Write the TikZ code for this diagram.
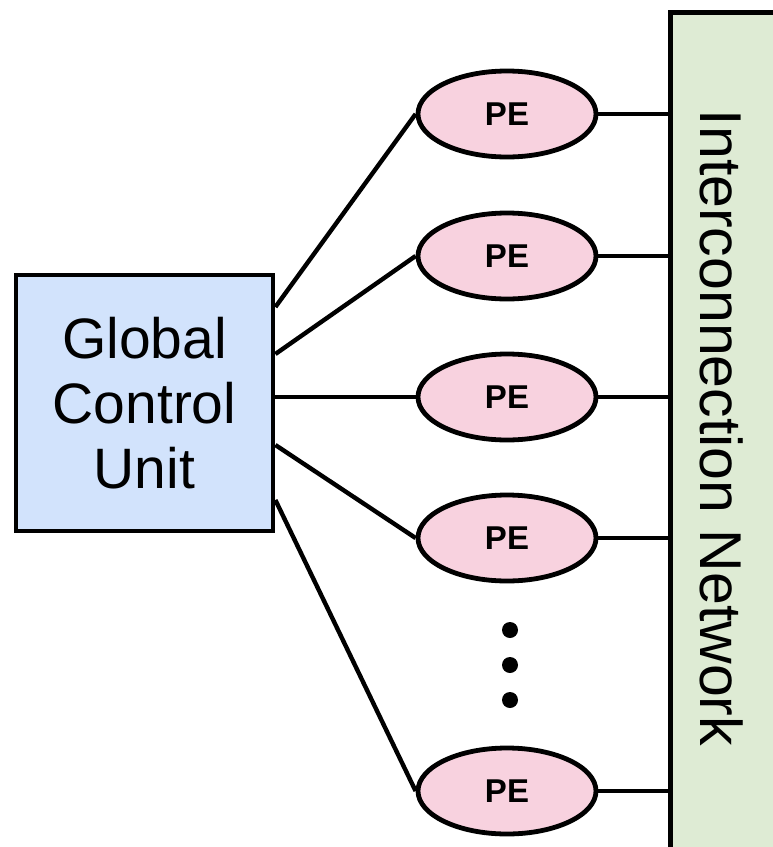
\documentclass[tikz,border=0pt]{standalone}
\usepackage{fontspec}
\setmainfont{Liberation Sans}
\usetikzlibrary{shapes.geometric}
\definecolor{gcublue}{HTML}{D2E3FC}
\definecolor{pepink}{HTML}{F8D2DF}
\definecolor{netgreen}{HTML}{DEEBD4}
\tikzset{
  wire/.style={line width=4.4pt, black},
  pebox/.style={ellipse, draw=black, line width=4.8pt, fill=pepink,
    minimum width=178pt, minimum height=86pt, inner sep=0pt,
    font=\fontsize{33}{36}\selectfont\bfseries},
  gcubox/.style={rectangle, draw=black, line width=4.8pt, fill=gcublue,
    minimum width=257pt, minimum height=256pt, inner sep=0pt, align=center,
    font=\fontsize{57}{65}\selectfont},
  netbox/.style={rectangle, draw=black, line width=4.8pt, fill=netgreen,
    minimum width=130pt, minimum height=860pt, inner sep=0pt, anchor=north west},
  dot/.style={circle, fill=black, inner sep=0pt, minimum size=16pt}
}
\begin{document}
\begin{tikzpicture}[x=1pt, y=-1pt]
  \useasboundingbox (0,0) rectangle (773,847);
  % interconnection network on the right edge
  \node[netbox] (net) at (668,10) {};
  \node[rotate=-90, font=\fontsize{59}{62}\selectfont] (netlabel) at (722,428) {Interconnection Network};
  % global control unit
  \node[gcubox] (gcu) at (144.5,403) {Global\\Control\\Unit};
  % processing elements
  \node[pebox] (pe1) at (507,114) {PE};
  \node[pebox] (pe2) at (507,256) {PE};
  \node[pebox] (pe3) at (507,397) {PE};
  \node[pebox] (pe4) at (507,538) {PE};
  \node[pebox] (pe5) at (507,791) {PE};
  % ellipsis between the PEs
  \node[dot] (d1) at (510,630) {};
  \node[dot] (d2) at (510,665) {};
  \node[dot] (d3) at (510,700) {};
  % control lines
  \draw[wire] ([yshift=96pt]gcu.east) -- (pe1.west);
  \draw[wire] ([yshift=49pt]gcu.east) -- (pe2.west);
  \draw[wire] ([yshift=6pt]gcu.east) -- (pe3.west);
  \draw[wire] ([yshift=-42pt]gcu.east) -- (pe4.west);
  \draw[wire] ([yshift=-97pt]gcu.east) -- (pe5.west);
  % links to the network
  \foreach \p in {pe1,pe2,pe3,pe4,pe5}
    \draw[wire] (\p.east) -- (\p.east -| net.west);
\end{tikzpicture}
\end{document}
